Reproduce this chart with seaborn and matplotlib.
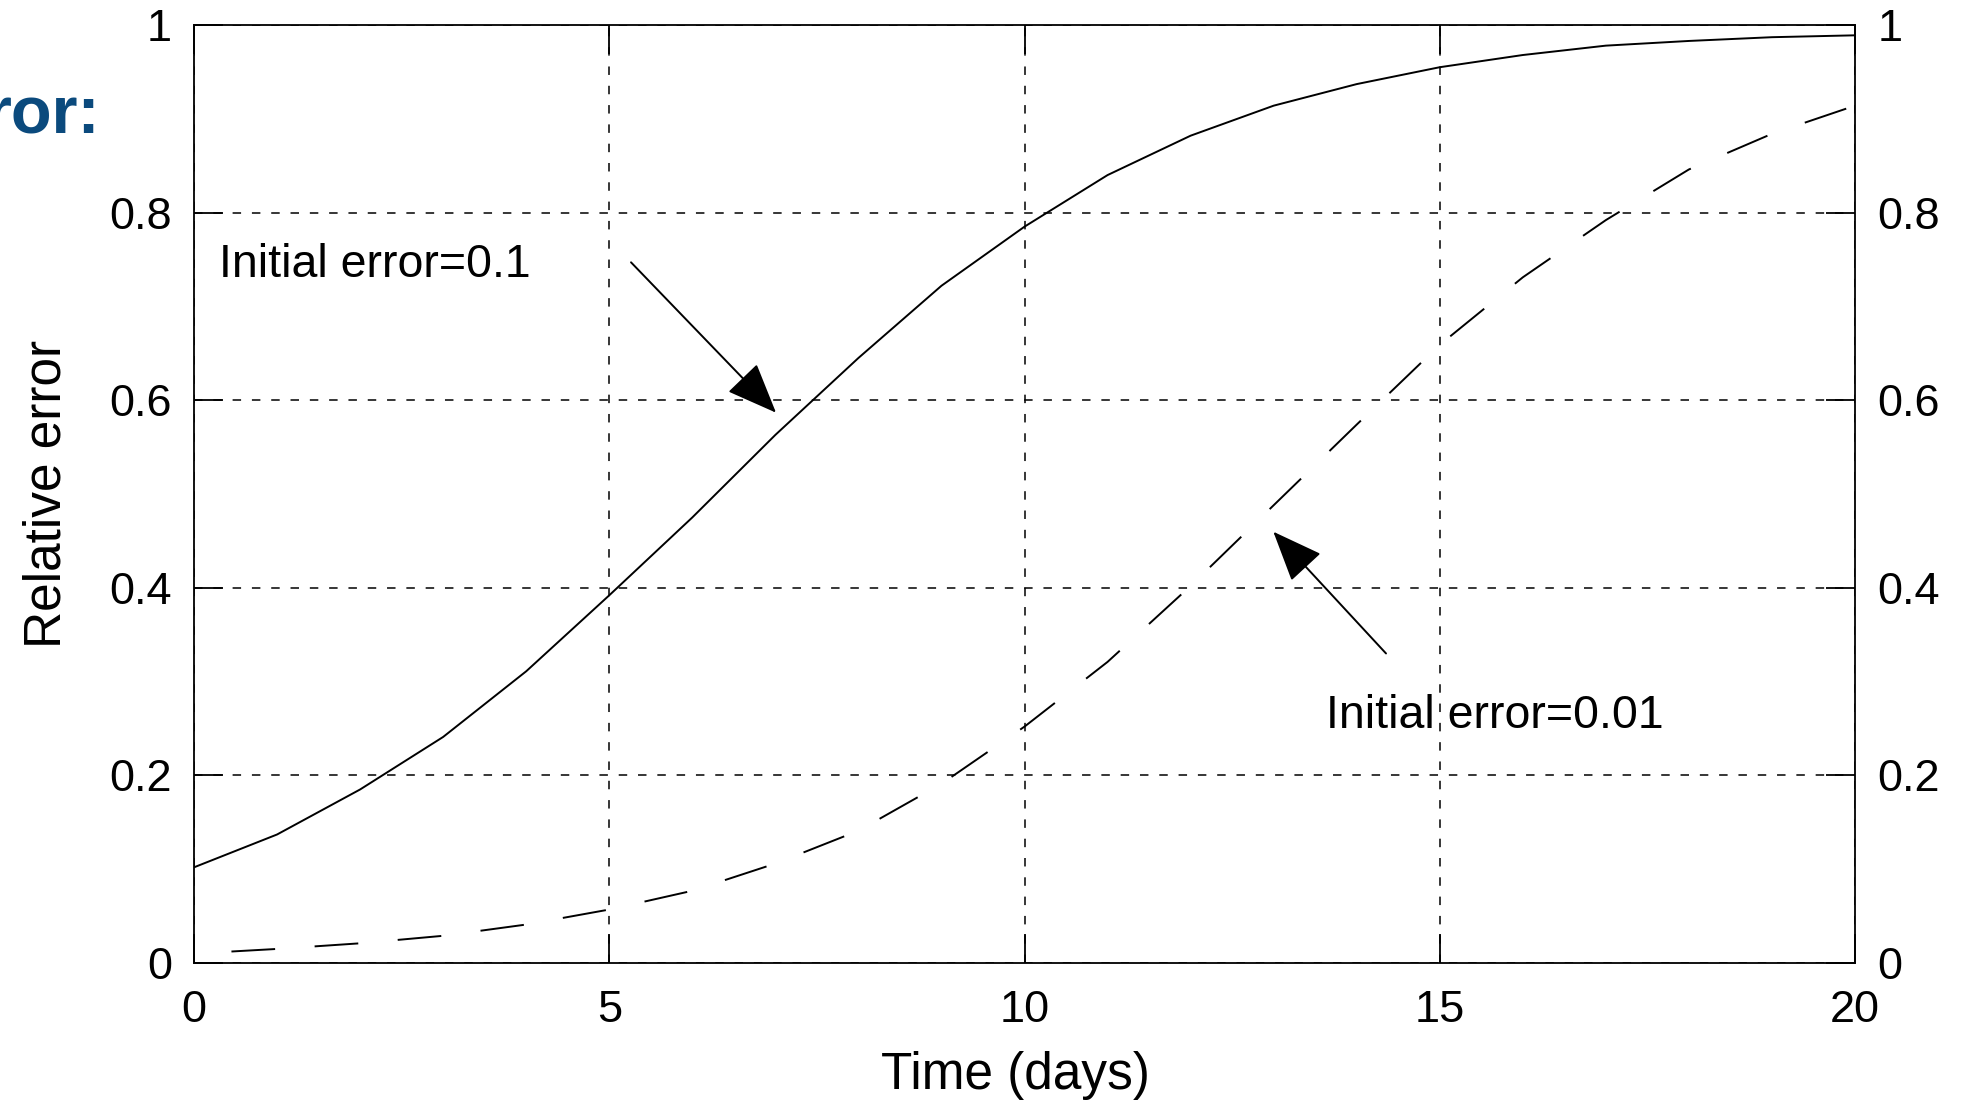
import numpy as np
import pandas as pd
import matplotlib
matplotlib.use("Agg")
import matplotlib.pyplot as plt
import seaborn as sns

# ---- data ----
days = list(range(0, 21))
err_init_01 = [0.102, 0.137, 0.185, 0.241, 0.311, 0.392, 0.475, 0.563, 0.645, 0.722,
               0.785, 0.840, 0.882, 0.914, 0.937, 0.955, 0.968, 0.978, 0.983, 0.987, 0.989]
err_init_001 = [0.010, 0.015, 0.021, 0.029, 0.041, 0.057, 0.077, 0.106, 0.141, 0.191,
                0.252, 0.321, 0.402, 0.488, 0.574, 0.659, 0.731, 0.792, 0.846, 0.884, 0.914]
x_ticks = [0, 5, 10, 15, 20]
y_ticks = [0, 0.2, 0.4, 0.6, 0.8, 1.0]
y_tick_labels = ["0", "0.2", "0.4", "0.6", "0.8", "1"]
label_01 = "Initial error=0.1"
label_001 = "Initial error=0.01"

sns.set_theme(style="white")
plt.rcParams["font.family"] = ["Liberation Sans", "DejaVu Sans"]
plt.rcParams["lines.scale_dashes"] = False

fig = plt.figure(figsize=(19.64, 11.01), dpi=100)
ax = fig.add_axes([0.09878, 0.12534, 0.84572, 0.85195])

df1 = pd.DataFrame({"day": days, "err": err_init_01})
df2 = pd.DataFrame({"day": days, "err": err_init_001})
sns.lineplot(data=df1, x="day", y="err", ax=ax, color="black", linewidth=1.4)
sns.lineplot(data=df2, x="day", y="err", ax=ax, color="black", linewidth=1.4,
             linestyle=(33, (31.5, 28.5)))

ax.set_xlim(0, 20)
ax.set_ylim(0, 1)
ax.set_xticks(x_ticks)
ax.set_xticklabels([str(t) for t in x_ticks])
ax.set_yticks(y_ticks)
ax.set_yticklabels(y_tick_labels)

ax.grid(True, color="black", linewidth=1.1, linestyle=(0, (6.1, 7.8)))
ax.set_axisbelow(True)
for s in ax.spines.values():
    s.set_visible(True)
    s.set_color("black")
    s.set_linewidth(1.3)

ax.tick_params(direction="in", length=21, width=1.3, top=True, right=True,
               bottom=True, left=True, labelright=True, labelsize=32.5, colors="black")
ax.tick_params(axis="y", pad=16)
ax.tick_params(axis="x", pad=19.5)

ax.set_xlabel("Time (days)", fontsize=37, color="black")
ax.set_ylabel("Relative error", fontsize=37, color="black")
ax.xaxis.set_label_coords(0.4943, -0.0938)
ax.yaxis.set_label_coords(-0.074, 0.5)

# annotations
ax.text(0.301, 0.7313, label_01, fontsize=33.5, ha="left", va="baseline", color="black")
ax.text(13.63, 0.2502, label_001, fontsize=33.5, ha="left", va="baseline", color="black")
arrow_kw = dict(arrowstyle="-|>,head_length=1.6,head_width=0.65", mutation_scale=20,
                color="black", lw=1.4, shrinkA=0, shrinkB=0)
ax.annotate("", xy=(7.008, 0.5867), xytext=(5.262, 0.747), arrowprops=arrow_kw)
ax.annotate("", xy=(12.996, 0.4598), xytext=(14.353, 0.330), arrowprops=arrow_kw)

# partial slide title visible at top-left (cut off at the edge, as in the reference)
fig.text(0.0509, 1 - 133 / 1101, "ror:", fontsize=48, fontweight="bold",
         color="#0b4a7d", ha="right", va="baseline")

fig.savefig("out.png", dpi=100)
